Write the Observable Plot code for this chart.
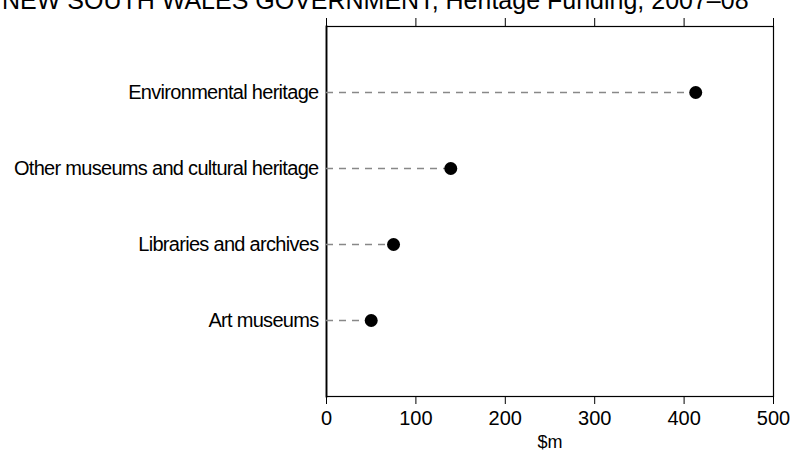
<!DOCTYPE html>
<html>
<head>
<meta charset="utf-8">
<script src="https://cdn.jsdelivr.net/npm/d3@7"></script>
<script src="https://cdn.jsdelivr.net/npm/@observablehq/plot@0.6"></script>
<style>
  html, body { margin: 0; padding: 0; background: #fff; overflow: hidden; }
  #wrap { position: relative; width: 790px; height: 452px; }
  #title { position: absolute; left: 2px; top: -12px; font: 25px/25px "Liberation Sans", Arial, sans-serif; color: #000; white-space: nowrap; }
  #chart { position: absolute; left: 0; top: 0; }
  #chart g[aria-label="y-axis tick label"] text { letter-spacing: -0.7px; }
</style>
</head>
<body>
<div id="wrap">
  <div id="chart"></div>
  <div id="title">NEW SOUTH WALES GOVERNMENT, Heritage Funding, 2007–08</div>
</div>
<script>
const categories = ["Environmental heritage", "Other museums and cultural heritage", "Libraries and archives", "Art museums"];
const values = [413, 139, 75, 50];
const xTicks = [0, 100, 200, 300, 400, 500];
const xLabel = "$m";

const data = categories.map((c, i) => ({category: c, value: values[i]}));

const plot = Plot.plot({
  width: 790,
  height: 452,
  marginLeft: 326,
  marginRight: 17,
  marginTop: 26,
  marginBottom: 56,
  style: {fontFamily: "'Liberation Sans', Arial, sans-serif", fontSize: "20px", color: "#000", background: "#fff"},
  x: {domain: [0, 500], ticks: xTicks, label: null},
  y: {domain: categories, type: "point", padding: 0, range: [92, 320], label: null},
  marks: [
    Plot.frame({stroke: "#000", strokeWidth: 1.2}),
    Plot.frame({anchor: "left", stroke: "#000", strokeWidth: 1.8}),
    Plot.ruleY(data, {y: "category", x1: 0, x2: "value", stroke: "#888", strokeWidth: 1.4, strokeDasharray: "7,6"}),
    Plot.dot(data, {x: "value", y: "category", r: 6.5, fill: "#000", stroke: "none"}),
    Plot.axisX({anchor: "bottom", ticks: xTicks, tickSize: 8, tickPadding: 6, fontSize: 20, label: null}),
    Plot.axisX({anchor: "top", ticks: xTicks, tickSize: 9, tickFormat: () => "", label: null}),
    Plot.axisY({anchor: "left", tickSize: 0, tickPadding: 8, fontSize: 20, label: null}),
    Plot.text([xLabel], {frameAnchor: "bottom", dy: 51, text: d => d, fontSize: 18, lineAnchor: "bottom"})
  ]
});
document.getElementById("chart").appendChild(plot);
</script>
</body>
</html>
